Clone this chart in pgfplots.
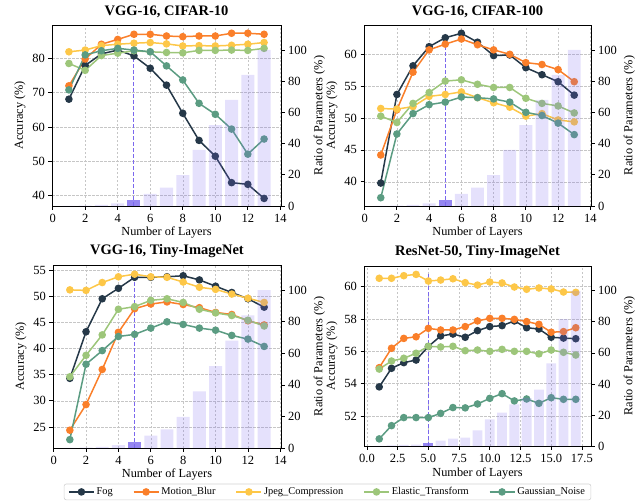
\documentclass[border=0pt]{standalone}
\usepackage{fontspec}
\setmainfont{Liberation Serif}
\usepackage{pgfplots}
\usepackage{pgfplotstable}
\pgfplotsset{compat=1.18}

\definecolor{cfog}{RGB}{37,56,72}
\definecolor{cmot}{RGB}{250,127,42}
\definecolor{cjpg}{RGB}{253,199,72}
\definecolor{cela}{RGB}{157,198,122}
\definecolor{cgau}{RGB}{91,156,130}
\definecolor{msb}{RGB}{123,104,238}

\pgfplotstableread{
x fog mot jpg ela gau
1 68.1 72.0 81.9 78.5 70.8
2 77.9 79.8 82.4 76.5 81.0
3 81.3 84.1 83.7 80.8 82.2
4 82.4 85.5 84.1 81.5 82.9
5 80.7 87.0 84.4 82.2 82.4
6 77.1 87.0 84.6 81.9 81.9
7 72.2 86.5 84.2 81.7 77.8
8 64.0 86.3 83.6 81.6 73.7
9 56.1 86.5 83.7 82.3 66.9
10 51.5 86.5 83.6 82.3 63.7
11 43.8 87.3 83.8 82.4 59.4
12 43.3 87.3 84.1 82.3 52.1
13 39.2 87.0 84.6 82.9 56.5
}\tA

\pgfplotstableread{
x fog mot jpg ela gau
1 39.8 44.2 51.5 50.3 37.5
2 53.7 51.3 51.4 49.3 47.5
3 58.2 57.2 51.8 52.3 50.7
4 61.2 60.7 53.4 54.0 52.1
5 62.6 61.6 53.7 55.8 52.5
6 63.3 62.4 54.1 56.0 53.3
7 61.9 61.5 53.2 55.3 53.2
8 59.8 60.7 52.4 54.8 53.0
9 59.9 60.0 51.7 54.8 52.5
10 57.9 58.7 50.3 53.1 50.9
11 56.8 58.4 50.7 52.3 50.4
12 55.7 57.6 49.7 51.9 49.2
13 53.6 55.7 49.4 50.8 47.4
}\tB

\pgfplotstableread{
x fog mot jpg ela gau
1 34.3 24.4 51.2 34.6 22.6
2 43.2 29.3 51.1 38.7 37.0
3 49.5 36.0 52.6 42.6 39.6
4 51.5 43.1 53.7 47.5 42.3
5 53.6 47.6 54.2 48.0 42.7
6 53.6 48.5 53.7 49.2 43.9
7 53.7 48.9 53.6 49.5 45.1
8 53.9 48.4 52.7 48.8 44.6
9 53.1 47.8 51.7 47.5 43.9
10 51.9 46.9 51.3 46.8 43.5
11 50.7 46.5 50.4 46.3 42.5
12 49.5 45.3 49.6 45.4 41.8
13 47.9 44.5 48.8 44.3 40.4
}\tC

\pgfplotstableread{
x fog mot jpg ela gau
1 53.80 54.99 60.52 54.90 50.58
2 54.95 56.19 60.52 55.40 51.40
3 55.30 56.80 60.68 55.57 51.90
4 55.46 56.90 60.76 55.88 51.90
5 56.30 57.42 60.35 56.31 51.90
6 56.95 57.32 60.41 56.27 52.16
7 57.07 57.32 60.49 56.31 52.52
8 56.87 57.53 60.25 56.04 52.50
9 57.28 57.88 60.10 56.08 52.74
10 57.53 58.04 60.29 56.00 53.09
11 57.59 58.04 60.23 56.12 53.38
12 57.88 57.98 59.98 56.00 52.93
13 57.46 57.84 59.84 56.00 53.05
14 57.38 57.67 59.92 55.84 52.78
15 56.87 57.18 59.86 56.08 53.13
16 56.82 57.22 59.67 55.94 53.03
17 56.78 57.46 59.65 55.77 53.03
}\tD

\pgfplotstableread{
x r
1 0.02
2 0.26
3 0.76
4 1.76
6 7.8
7 11.8
8 19.8
9 35.9
10 51.9
11 68.0
12 84.0
13 100
}\vggbars

\pgfplotstableread{
x r
1 0.05
2 0.35
3 0.65
4 0.95
6 3.4
7 4.7
8 5.4
9 10.0
10 17.2
11 21.5
12 26.9
13 30.8
14 36.3
15 53.3
16 81.7
17 100
}\resbars

\pgfplotsset{
  base/.style={
    scale only axis,
    axis line style={line width=0.8bp, black},
    every tick/.style={line width=0.8bp, black},
    major tick length=3.5bp,
    tick align=outside,
    /pgf/number format/assume math mode=true,
    ticklabel style={font=\fontsize{12.5bp}{14bp}\selectfont},
    label style={font=\fontsize{12.3bp}{14bp}\selectfont},
  },
  leftax/.style={
    base,
    xtick pos=bottom, ytick pos=left,
    grid=major,
    grid style={dash pattern=on 2.5bp off 1.5bp, gray!45, line width=0.5bp},
    xlabel={Number of Layers},
    ylabel={Accuracy (\%)},
    title style={font=\fontsize{14.5bp}{16bp}\selectfont\bfseries, yshift=-2bp},
    xticklabel style={yshift=-1bp},
    xlabel style={yshift=2bp},
  },
  rightax/.style={
    base,
    axis y line*=right, axis x line=none,
    ymin=0, ymax=116, ytick={0,20,...,100},
    ylabel={Ratio of Parameters (\%)},
  },
  ser/.style={line width=1.5bp, mark=*, mark size=3bp, mark options={solid}},
  bars/.style={ybar, bar width=0.8, bar shift=0pt, draw=none, fill=msb, fill opacity=0.2},
  hbar/.style={ybar, bar width=0.8, bar shift=0pt, draw=none, fill=msb, fill opacity=0.8},
  vline/.style={msb, dash pattern=on 4bp off 2bp, line width=1bp, forget plot},
}

\begin{document}
\begin{tikzpicture}
\path[use as bounding box] (0,0) rectangle (635bp,-502bp);

% ---------- Panel 1 ----------
\begin{axis}[leftax, at={(52bp,-206bp)}, anchor=south west, width=229bp, height=181bp,
  xmin=-0.04, xmax=14.04, ymin=37.0, ymax=89.7, xtick={0,2,...,14}, ytick={40,50,...,80},
  title={VGG-16, CIFAR-10}]
\addplot[ser, cfog] table[x=x,y=fog]{\tA};
\addplot[ser, cmot] table[x=x,y=mot]{\tA};
\addplot[ser, cjpg] table[x=x,y=jpg]{\tA};
\addplot[ser, cela] table[x=x,y=ela]{\tA};
\addplot[ser, cgau] table[x=x,y=gau]{\tA};
\addplot[vline] coordinates {(5,37.0) (5,87.3)};
\end{axis}
\begin{axis}[rightax, at={(52bp,-206bp)}, anchor=south west, width=229bp, height=181bp,
  xmin=-0.04, xmax=14.04]
\addplot[bars] table[x=x,y=r]{\vggbars};
\addplot[hbar] coordinates {(5,3.77)};
\end{axis}

% ---------- Panel 2 ----------
\begin{axis}[leftax, at={(364bp,-206bp)}, anchor=south west, width=227bp, height=181bp,
  xmin=-0.04, xmax=14.04, ymin=36.2, ymax=64.6, xtick={0,2,...,14}, ytick={40,45,...,60},
  title={VGG-16, CIFAR-100}]
\addplot[ser, cfog] table[x=x,y=fog]{\tB};
\addplot[ser, cmot] table[x=x,y=mot]{\tB};
\addplot[ser, cjpg] table[x=x,y=jpg]{\tB};
\addplot[ser, cela] table[x=x,y=ela]{\tB};
\addplot[ser, cgau] table[x=x,y=gau]{\tB};
\addplot[vline] coordinates {(5,36.2) (5,63.3)};
\end{axis}
\begin{axis}[rightax, at={(364bp,-206bp)}, anchor=south west, width=227bp, height=181bp,
  xmin=-0.04, xmax=14.04]
\addplot[bars] table[x=x,y=r]{\vggbars};
\addplot[hbar] coordinates {(5,3.77)};
\end{axis}

% ---------- Panel 3 ----------
\begin{axis}[leftax, at={(53bp,-448bp)}, anchor=south west, width=228bp, height=183bp,
  xmin=-0.04, xmax=14.04, ymin=21.0, ymax=55.95, xtick={0,2,...,14}, ytick={25,30,...,55},
  title={VGG-16, Tiny-ImageNet},
  legend columns=5,
  legend style={at={(axis description cs:1.204,-0.24)}, anchor=center,
    draw=gray!35, rounded corners=2bp, line width=0.6bp,
    font=\fontsize{10.4bp}{12bp}\selectfont, inner xsep=4bp, inner ysep=1.5bp,
    /tikz/every even column/.append style={column sep=18bp}},
  legend image code/.code={\draw[mark repeat=2,mark phase=2,#1] plot coordinates {(0bp,0bp)(12.5bp,0bp)(25bp,0bp)};},
  legend cell align=left]
\addplot[ser, cfog] table[x=x,y=fog]{\tC};
\addlegendentry{Fog}
\addplot[ser, cmot] table[x=x,y=mot]{\tC};
\addlegendentry{Motion\_Blur}
\addplot[ser, cjpg] table[x=x,y=jpg]{\tC};
\addlegendentry{Jpeg\_Compression}
\addplot[ser, cela] table[x=x,y=ela]{\tC};
\addlegendentry{Elastic\_Transform}
\addplot[ser, cgau] table[x=x,y=gau]{\tC};
\addlegendentry{Gaussian\_Noise}
\addplot[vline] coordinates {(5,21.0) (5,54.2)};
\end{axis}
\begin{axis}[rightax, at={(53bp,-448bp)}, anchor=south west, width=228bp, height=183bp,
  xmin=-0.04, xmax=14.04]
\addplot[bars] table[x=x,y=r]{\vggbars};
\addplot[hbar] coordinates {(5,3.77)};
\end{axis}

% ---------- Panel 4 ----------
\begin{axis}[leftax, at={(364bp,-446bp)}, anchor=south west, width=227bp, height=180bp,
  xmin=-0.24, xmax=18.24, ymin=50.14, ymax=61.28, xtick={0,2.5,...,17.5}, ytick={52,54,...,60},
  xticklabel style={/pgf/number format/.cd, fixed, fixed zerofill, precision=1},
  title={ResNet-50, Tiny-ImageNet}]
\addplot[ser, cfog] table[x=x,y=fog]{\tD};
\addplot[ser, cmot] table[x=x,y=mot]{\tD};
\addplot[ser, cjpg] table[x=x,y=jpg]{\tD};
\addplot[ser, cela] table[x=x,y=ela]{\tD};
\addplot[ser, cgau] table[x=x,y=gau]{\tD};
\addplot[vline] coordinates {(5,50.14) (5,60.76)};
\end{axis}
\begin{axis}[rightax, at={(364bp,-446bp)}, anchor=south west, width=227bp, height=180bp,
  xmin=-0.24, xmax=18.24]
\addplot[bars] table[x=x,y=r]{\resbars};
\addplot[hbar] coordinates {(5,2.0)};
\end{axis}
\end{tikzpicture}
\end{document}
